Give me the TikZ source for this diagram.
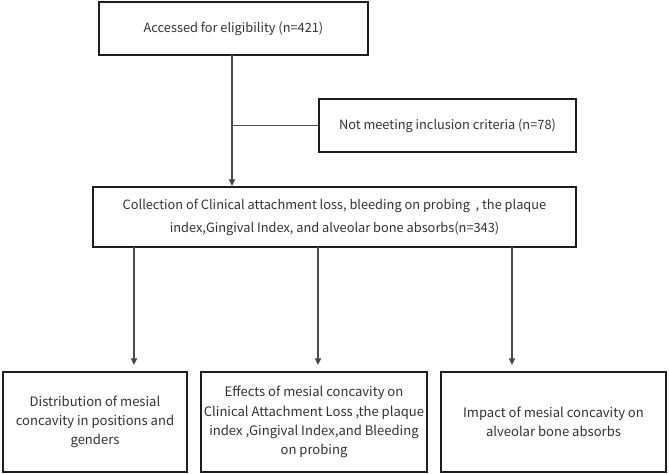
\documentclass[tikz,border=0pt]{standalone}
\usepackage{fontspec}
\setmainfont{Noto Sans CJK SC}
\usetikzlibrary{arrows.meta}
\definecolor{boxline}{HTML}{1E1E1E}
\definecolor{conn}{HTML}{4A4A4A}
\definecolor{txt}{HTML}{333333}
\tikzset{
  box/.style={draw=boxline, line width=1.5pt, fill=white, align=center, text=txt,
    inner sep=0pt, font=\fontsize{9.6}{14.6}\selectfont},
  lowbox/.style={box, font=\fontsize{9.8}{14.4}\selectfont},
  link/.style={draw=conn, line width=0.8pt},
  arr/.style={link, -{Triangle[width=4.6pt,length=5pt]}},
}
\begin{document}
\begin{tikzpicture}[x=0.75pt,y=-0.75pt]
\useasboundingbox (0,0) rectangle (669,474);
\node[box, minimum width=269*0.75pt, minimum height=53*0.75pt] (top) at (233.5,28.5) {Accessed for eligibility (n=421)};
\node[box, minimum width=257*0.75pt, minimum height=53*0.75pt] (side) at (447.5,125.5) {Not meeting inclusion criteria (n=78)};
\node[box, font=\fontsize{9.6}{17.2}\selectfont, minimum width=483*0.75pt, minimum height=60*0.75pt] (coll) at (334.5,217) {Collection of Clinical attachment loss, bleeding on probing~~, the plaque\\index,Gingival Index, and alveolar bone absorbs(n=343)};
\node[lowbox, minimum width=184*0.75pt, minimum height=100*0.75pt] (b1) at (95,422) {Distribution of mesial\\concavity in positions and\\genders};
\node[lowbox, minimum width=226*0.75pt, minimum height=100*0.75pt] (b2) at (314,422) {Effects of mesial concavity on\\Clinical Attachment Loss ,the plaque\\index ,Gingival Index,and Bleeding\\on probing};
\node[lowbox, minimum width=225*0.75pt, minimum height=100*0.75pt] (b3) at (553.5,422) {Impact of mesial concavity on\\alveolar bone absorbs};
\coordinate (s) at (232,55);
\coordinate (a1) at (134,247);
\coordinate (a2) at (318,247);
\coordinate (a3) at (512,247);
\draw[arr] (s) -- (s |- coll.north);
\draw[link] (s |- side.west) -- (side.west);
\draw[arr, shorten >=4.5pt] (a1) -- (a1 |- b1.north);
\draw[arr, shorten >=4.5pt] (a2) -- (a2 |- b2.north);
\draw[arr, shorten >=4.5pt] (a3) -- (a3 |- b3.north);
\end{tikzpicture}
\end{document}
